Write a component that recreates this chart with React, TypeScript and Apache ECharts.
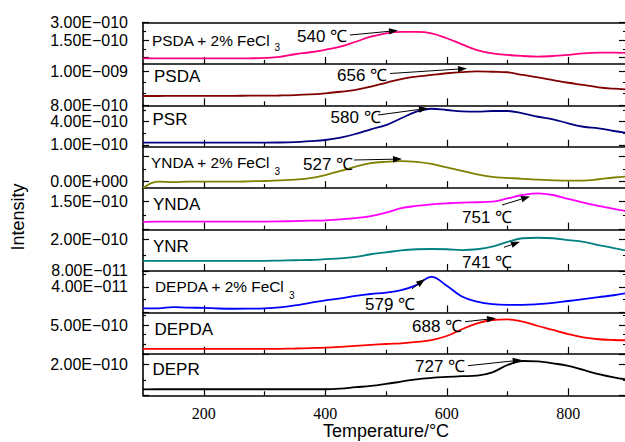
import React, { useEffect, useRef } from "react";
import * as echarts from "echarts";

// ---------- data ----------
const temps = [100, 125, 150, 175, 200, 225, 250, 275, 300, 325, 350, 375, 400, 425, 450, 475, 500, 525, 550, 575, 600, 625, 650, 675, 700, 725, 750, 775, 800, 825, 850, 875, 900];

// values in units of 1E-010
const psdaFe = [-0.07, -0.07, -0.08, -0.08, -0.08, -0.08, -0.08, -0.07, -0.04, 0.05, 0.28, 0.45, 0.66, 0.93, 1.35, 1.78, 2.07, 2.19, 2.19, 2.07, 1.65, 1.13, 0.64, 0.36, 0.22, 0.13, 0.07, 0.13, 0.22, 0.36, 0.41, 0.41, 0.39];
const psda = [8.53, 8.53, 8.54, 8.54, 8.54, 8.54, 8.54, 8.55, 8.55, 8.56, 8.58, 8.62, 8.69, 8.78, 8.89, 9.08, 9.31, 9.53, 9.67, 9.77, 9.87, 9.94, 9.98, 9.96, 9.93, 9.77, 9.63, 9.47, 9.31, 9.18, 9.04, 8.96, 8.91];
const psr = [1.3, 1.3, 1.3, 1.3, 1.3, 1.3, 1.3, 1.3, 1.3, 1.32, 1.38, 1.5, 1.64, 1.94, 2.42, 3.02, 3.57, 4.44, 5.29, 5.67, 5.51, 5.34, 5.29, 5.38, 5.38, 5.08, 4.64, 4.31, 3.79, 3.35, 3.15, 2.8, 2.54];
const yndaFe = [-0.18, 0.0, -0.01, 0.0, 0.0, 0.0, 0.0, 0.01, 0.02, 0.04, 0.06, 0.1, 0.19, 0.31, 0.43, 0.53, 0.57, 0.59, 0.57, 0.51, 0.41, 0.31, 0.21, 0.14, 0.11, 0.08, 0.06, 0.04, 0.03, 0.03, 0.07, 0.12, 0.15];
const ynda = [0.42, 0.43, 0.43, 0.43, 0.43, 0.43, 0.43, 0.43, 0.43, 0.44, 0.46, 0.48, 0.5, 0.55, 0.62, 0.73, 0.91, 1.15, 1.27, 1.36, 1.41, 1.45, 1.47, 1.5, 1.68, 1.86, 1.95, 1.86, 1.65, 1.45, 1.27, 1.11, 0.97];
const ynr = [1.18, 1.18, 1.18, 1.18, 1.18, 1.18, 1.18, 1.18, 1.18, 1.19, 1.2, 1.21, 1.24, 1.27, 1.33, 1.43, 1.5, 1.58, 1.62, 1.63, 1.62, 1.59, 1.62, 1.72, 1.9, 2.04, 2.06, 2.04, 1.97, 1.9, 1.78, 1.66, 1.55];
const depdaFe = [0.065, 0.065, 0.085, 0.075, 0.072, 0.062, 0.058, 0.06, 0.065, 0.08, 0.11, 0.15, 0.19, 0.22, 0.26, 0.29, 0.31, 0.35, 0.43, 0.56, 0.42, 0.25, 0.17, 0.13, 0.12, 0.12, 0.13, 0.15, 0.18, 0.21, 0.24, 0.27, 0.31];
const depda = [0.85, 0.85, 0.85, 0.85, 0.85, 0.85, 0.85, 0.85, 0.85, 0.88, 0.93, 1.0, 1.07, 1.2, 1.37, 1.55, 1.71, 1.83, 2.06, 2.4, 3.1, 4.26, 5.29, 5.87, 5.99, 5.57, 4.83, 4.14, 3.44, 2.87, 2.53, 2.4, 2.35];
const depr = [0.38, 0.39, 0.39, 0.39, 0.39, 0.39, 0.39, 0.39, 0.39, 0.39, 0.39, 0.39, 0.39, 0.43, 0.52, 0.6, 0.73, 0.88, 1.03, 1.12, 1.18, 1.23, 1.27, 1.48, 1.95, 2.21, 2.19, 2.06, 1.89, 1.63, 1.37, 1.16, 0.99];

const seriesValues = [psdaFe, psda, psr, yndaFe, ynda, ynr, depdaFe, depda, depr];
const panelNames = ["PSDA + 2% FeCl", "PSDA", "PSR", "YNDA + 2% FeCl", "YNDA", "YNR", "DEPDA + 2% FeCl", "DEPDA", "DEPR"];
const panelSubs = ["3", "", "", "3", "", "", "3", "", ""];
const peakLabels = ["540 \u2103", "656 \u2103", "580 \u2103", "527 \u2103", "751 \u2103", "741 \u2103", "579 \u2103", "688 \u2103", "727 \u2103"];

const yMins = [-0.55, 7.98, 0.77, -0.186, 0, 0.79, 0, 0, 0];
const yMaxs = [3.0, 10.42, 6.11, 1.0, 2.226, 2.37, 0.651, 7.18, 2.67];
const yLabelValues = [[1.5, 3.0], [8, 10], [1, 4], [0], [1.5], [0.8, 2.0], [0.4], [5], [2]];
const yMajorTicks = [[0, 1.5, 3.0], [8, 10], [1, 4], [0, 0.716], [0, 1.5], [0.8, 2.0], [0, 0.4], [0, 5], [0, 2]];
const yMinorTicks = [[0.75, 2.25], [8.667, 9.333], [2.5, 5.5], [0.358], [0.75], [1.4], [0.2, 0.6], [1.667, 3.333, 6.667], [1.0]];

const xLabelValues = [200, 400, 600, 800];
const xMinorValues = [300, 500, 700];

// ---------- style / layout ----------
const colors = ["#FF0080", "#800000", "#000080", "#808000", "#FF00FF", "#008080", "#0000FF", "#FF0000", "#000000"];
const GRID_TOP = 22.5;
const PANEL_H = 41.42;
const GRID_LEFT = 143;
const GRID_RIGHT = -4;
const SANS = '"Liberation Sans", Arial, Helvetica, sans-serif';
const SERIF = '"Liberation Serif", "Times New Roman", serif';

// panel name label positions [x, y, fontSize]
const nameLayout = [[152, 40, 15.4], [154, 76.5, 17], [152.5, 119.5, 17], [151, 162.5, 15.4], [153, 204, 17], [153, 246, 17], [155, 286, 15.4], [154.5, 329.5, 17], [152.5, 369, 17]];
const subLayout = [[274.5, 47.5], [0, 0], [0, 0], [274.5, 171.5], [0, 0], [0, 0], [289, 295.5], [0, 0], [0, 0]];
// annotation layout: text left x, text center y, arrow x1, y1, x2, y2
const annLayout = [
  [297, 36.5, 350, 35, 398, 30.5],
  [337, 75.5, 390, 73.5, 467, 68.5],
  [330.5, 117, 378, 115, 428, 108.3],
  [303, 164, 354, 160, 402, 159],
  [462, 217, 502, 205, 530, 196.5],
  [462, 262.5, 504, 247.3, 520, 241.7],
  [365, 304, 411.7, 289, 425, 279],
  [412, 326.5, 465, 321.7, 496, 318.3],
  [415, 366, 468, 365.7, 521.7, 360],
];

function fmtSci(v: number): string {
  if (Math.abs(v) < 1e-12) return "0.00E+000";
  const x = v * 1e-10;
  const e = Math.floor(Math.log10(Math.abs(x)) + 1e-9);
  const m = x / Math.pow(10, e);
  return m.toFixed(2) + "E" + (e < 0 ? "\u2212" : "+") + String(Math.abs(e)).padStart(3, "0");
}

function arrow(x1: number, y1: number, x2: number, y2: number): any[] {
  const dx = x2 - x1;
  const dy = y2 - y1;
  const len = Math.sqrt(dx * dx + dy * dy);
  const ux = dx / len;
  const uy = dy / len;
  const hl = 9;
  const hw = 3.2;
  const bx = x2 - ux * hl;
  const by = y2 - uy * hl;
  return [
    { type: "line", shape: { x1, y1, x2: bx, y2: by }, style: { stroke: "#000", lineWidth: 1 }, z: 100 },
    {
      type: "polygon",
      shape: { points: [[x2, y2], [bx - uy * hw, by + ux * hw], [bx + uy * hw, by - ux * hw]] },
      style: { fill: "#000" },
      z: 100,
    },
  ];
}

function buildOption(): any {
  const grid: any[] = [];
  const xAxis: any[] = [];
  const yAxis: any[] = [];
  const series: any[] = [];
  const graphic: any[] = [];

  for (let i = 0; i < 9; i++) {
    grid.push({
      left: GRID_LEFT,
      right: GRID_RIGHT,
      top: GRID_TOP + i * PANEL_H,
      height: PANEL_H,
      containLabel: false,
      outerBoundsMode: "none",
    });
    const isBottom = i === 8;
    const xMainIndex = xAxis.length;
    xAxis.push({
      gridIndex: i,
      type: "value",
      min: 100,
      max: 900,
      position: "bottom",
      offset: 0,
      axisLine: { show: true, onZero: false, lineStyle: { color: "#000", width: 1.6 } },
      axisTick: { show: true, inside: true, length: 7, customValues: xLabelValues, lineStyle: { color: "#000", width: 1.2 } },
      axisLabel: {
        show: isBottom,
        customValues: xLabelValues,
        color: "#000",
        fontFamily: SERIF,
        fontSize: 16,
        margin: 10,
      },
      splitLine: { show: false },
      name: isBottom ? "Temperature/\u00B0C" : "",
      nameLocation: "middle",
      nameGap: 27,
      nameTextStyle: { color: "#000", fontFamily: SANS, fontSize: 18 },
    });
    xAxis.push({
      gridIndex: i,
      type: "value",
      min: 100,
      max: 900,
      position: "bottom",
      offset: 0,
      axisLine: { show: false, onZero: false },
      axisTick: { show: true, inside: true, length: 4, customValues: xMinorValues, lineStyle: { color: "#000", width: 1.2 } },
      axisLabel: { show: false },
      splitLine: { show: false },
    });
    if (i === 0) {
      xAxis.push({
        gridIndex: i,
        type: "value",
        min: 100,
        max: 900,
        position: "top",
        offset: 0,
        axisLine: { show: true, onZero: false, lineStyle: { color: "#000", width: 1.6 } },
        axisTick: { show: false },
        axisLabel: { show: false },
        splitLine: { show: false },
      });
    }

    const yMainIndex = yAxis.length;
    const common = { gridIndex: i, type: "value", min: yMins[i], max: yMaxs[i], splitLine: { show: false }, offset: 0 };
    yAxis.push({
      ...common,
      position: "left",
      axisLine: { show: true, onZero: false, lineStyle: { color: "#000", width: 1.6 } },
      axisTick: { show: true, inside: true, length: 6, customValues: yMajorTicks[i], lineStyle: { color: "#000", width: 1.2 } },
      axisLabel: {
        show: true,
        customValues: yLabelValues[i],
        formatter: (v: number) => fmtSci(v),
        color: "#000",
        fontFamily: SANS,
        fontSize: 16,
        margin: 15,
      },
    });
    yAxis.push({
      ...common,
      position: "left",
      axisLine: { show: false, onZero: false },
      axisTick: { show: true, inside: true, length: 3, customValues: yMinorTicks[i], lineStyle: { color: "#000", width: 1.2 } },
      axisLabel: { show: false },
    });
    yAxis.push({
      ...common,
      position: "right",
      axisLine: { show: true, onZero: false, lineStyle: { color: "#000", width: 1.6 } },
      axisTick: { show: true, inside: true, length: 10, customValues: yMajorTicks[i], lineStyle: { color: "#000", width: 1.2 } },
      axisLabel: { show: false },
    });
    yAxis.push({
      ...common,
      position: "right",
      axisLine: { show: false, onZero: false },
      axisTick: { show: true, inside: true, length: 6, customValues: yMinorTicks[i], lineStyle: { color: "#000", width: 1.2 } },
      axisLabel: { show: false },
    });

    series.push({
      type: "line",
      name: panelNames[i] + panelSubs[i],
      xAxisIndex: xMainIndex,
      yAxisIndex: yMainIndex,
      data: temps.map((t, k) => [t, seriesValues[i][k]]),
      smooth: 0.4,
      showSymbol: false,
      symbol: "none",
      lineStyle: { color: colors[i], width: 1.8 },
      itemStyle: { color: colors[i] },
      silent: true,
    });

    graphic.push({
      type: "text",
      x: nameLayout[i][0],
      y: nameLayout[i][1],
      style: { text: panelNames[i], fill: "#000", fontFamily: SANS, fontSize: nameLayout[i][2], verticalAlign: "middle", align: "left" },
      z: 100,
    });
    if (panelSubs[i]) {
      graphic.push({
        type: "text",
        x: subLayout[i][0],
        y: subLayout[i][1],
        style: { text: panelSubs[i], fill: "#000", fontFamily: SANS, fontSize: 10, verticalAlign: "middle", align: "left" },
        z: 100,
      });
    }
    const a = annLayout[i];
    graphic.push({
      type: "text",
      x: a[0],
      y: a[1],
      style: { text: peakLabels[i], fill: "#000", fontFamily: SANS, fontSize: 17, verticalAlign: "middle", align: "left" },
      z: 100,
    });
    arrow(a[2], a[3], a[4], a[5]).forEach((g) => graphic.push(g));
  }

  graphic.push({
    type: "text",
    x: 18,
    y: 217,
    rotation: Math.PI / 2,
    style: { text: "Intensity", fill: "#000", fontFamily: SANS, fontSize: 18, align: "center", verticalAlign: "middle" },
    z: 100,
  });

  return {
    animation: false,
    backgroundColor: "#ffffff",
    grid,
    xAxis,
    yAxis,
    series,
    graphic,
  };
}

export default function App() {
  const ref = useRef<HTMLDivElement>(null);
  useEffect(() => {
    if (!ref.current) return;
    document.body.style.margin = "0";
    const chart = echarts.init(ref.current, undefined, { renderer: "svg" });
    chart.setOption(buildOption());
    return () => {
      chart.dispose();
    };
  }, []);
  return <div ref={ref} style={{ width: 625, height: 442, position: "absolute", left: 0, top: 0, overflow: "hidden" }} />;
}
